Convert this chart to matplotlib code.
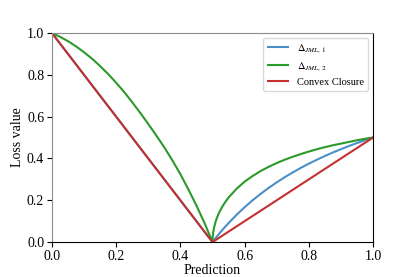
import matplotlib
matplotlib.use("Agg")
import matplotlib.pyplot as plt

# values
x_left = [0.0, 0.025, 0.05, 0.075, 0.1, 0.125, 0.15, 0.175, 0.2, 0.225, 0.25, 0.275, 0.3,
          0.325, 0.35, 0.375, 0.4, 0.425, 0.45, 0.475, 0.5]
jml1_left = [1.0, 0.95, 0.9, 0.85, 0.8, 0.75, 0.7, 0.65, 0.6, 0.55, 0.5, 0.45, 0.4,
             0.35, 0.3, 0.25, 0.2, 0.15, 0.1, 0.05, 0.0]
jml2_left = [1.0, 0.982, 0.961, 0.936, 0.908, 0.877, 0.842, 0.804, 0.762, 0.718, 0.669,
             0.618, 0.565, 0.51, 0.453, 0.391, 0.325, 0.252, 0.175, 0.092, 0.0]

x_right = [0.5, 0.5005, 0.502, 0.505, 0.51, 0.515, 0.52, 0.53, 0.54, 0.55, 0.575, 0.6,
           0.625, 0.65, 0.675, 0.7, 0.725, 0.75, 0.775, 0.8, 0.825, 0.85, 0.875, 0.9,
           0.925, 0.95, 0.975, 1.0]
jml1_right = [0.0, 0.001, 0.004, 0.0099, 0.0196, 0.0291, 0.0385, 0.0566, 0.0741, 0.0909,
              0.1304, 0.1667, 0.2, 0.2308, 0.2593, 0.2857, 0.3103, 0.3333, 0.3548, 0.375,
              0.3939, 0.4118, 0.4286, 0.4444, 0.4595, 0.4737, 0.4872, 0.5]
jml2_right = [0.0, 0.0224, 0.0446, 0.070, 0.099, 0.1207, 0.139, 0.168, 0.192, 0.213,
              0.255, 0.289, 0.316, 0.340, 0.360, 0.378, 0.394, 0.408, 0.421, 0.433,
              0.444, 0.454, 0.463, 0.471, 0.479, 0.487, 0.494, 0.5]

x_closure = [0.0, 0.5, 1.0]
closure = [1.0, 0.0, 0.5]

labels = [r"$\Delta_{JML,\,1}$", r"$\Delta_{JML,\,2}$", "Convex Closure"]
colors = ["#4a8fc8", "#2a9a2a", "#c43030"]

plt.rcParams["font.family"] = ["Liberation Serif", "DejaVu Serif"]
plt.rcParams["mathtext.fontset"] = "stix"

fig = plt.figure(figsize=(4.15, 2.77), dpi=100)
ax = fig.add_axes([0.125, 0.126, 0.774, 0.755])

ax.plot(x_left + x_right[1:], jml1_left + jml1_right[1:], color=colors[0], lw=1.5, label=labels[0])
ax.plot(x_left + x_right[1:], jml2_left + jml2_right[1:], color=colors[1], lw=1.5, label=labels[1])
ax.plot(x_closure, closure, color=colors[2], lw=1.5, label=labels[2])

ax.set_xlim(0, 1)
ax.set_ylim(0, 1)
ax.set_xlabel("Prediction", fontsize=10, labelpad=1)
ax.set_ylabel("Loss value", fontsize=10, labelpad=2)
ax.tick_params(labelsize=10, pad=2)

ax.spines["left"].set_color("0.55")
ax.spines["top"].set_color("0.55")

ax.legend(loc="upper right", fontsize=7.5, frameon=True, framealpha=1, edgecolor="0.85",
          labelspacing=0.45, borderaxespad=0.5)

fig.savefig("out.png", dpi=100)
